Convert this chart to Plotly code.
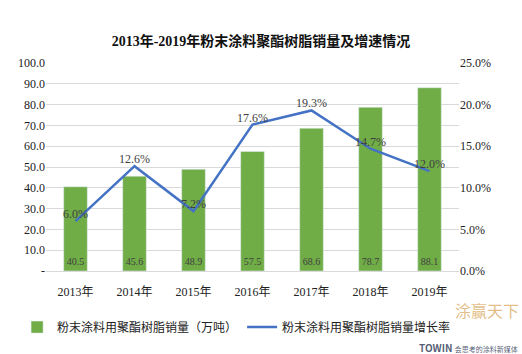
import plotly.graph_objects as go

years = ["2013年", "2014年", "2015年", "2016年", "2017年", "2018年", "2019年"]
sales = [40.5, 45.6, 48.9, 57.5, 68.6, 78.7, 88.1]
growth = [6.0, 12.6, 7.2, 17.6, 19.3, 14.7, 12.0]
left_ticks = [0, 10, 20, 30, 40, 50, 60, 70, 80, 90, 100]
left_labels = ["-"] + [f"{v:.1f}" for v in left_ticks[1:]]
right_ticks = [0, 5, 10, 15, 20, 25]
right_labels = [f"{v:.1f}%" for v in right_ticks]

serif = "Liberation Serif, Noto Sans CJK SC, serif"
txt = "#404040"

fig = go.Figure()
fig.add_trace(go.Bar(
    x=years, y=sales, name="粉末涂料用聚酯树脂销量（万吨）",
    marker=dict(color="#70AD47"),
    text=[f"{v:.1f}" for v in sales], textposition="inside",
    insidetextanchor="start", textangle=0,
    textfont=dict(family=serif, size=12, color=txt),
))
fig.add_trace(go.Scatter(
    x=years, y=growth, name="粉末涂料用聚酯树脂销量增长率", yaxis="y2",
    mode="lines+text", line=dict(color="#4472C4", width=2.5),
    text=[f"{v:.1f}%" for v in growth], textposition="top center",
    textfont=dict(family=serif, size=12, color=txt),
))

fig.update_layout(
    width=522, height=354,
    margin=dict(l=46, r=63, t=63, b=81),
    paper_bgcolor="white", plot_bgcolor="white",
    font=dict(family=serif, size=12, color="#222"),
    title=dict(text="<b>2013年-2019年粉末涂料聚酯树脂销量及增速情况</b>",
               x=0.5, xanchor="center", y=0.885, yanchor="middle",
               font=dict(family=serif, size=14, color="#111")),
    bargap=0.6,
    xaxis=dict(showgrid=False, showline=True, linecolor="#d9d9d9",
               tickfont=dict(family=serif, size=12, color="#222"), ticks="",
               ticklabelstandoff=10),
    yaxis=dict(range=[0, 100], tickvals=left_ticks, ticktext=left_labels,
               showgrid=True, gridcolor="#d9d9d9", zeroline=False,
               tickfont=dict(family=serif, size=12, color="#222")),
    yaxis2=dict(range=[0, 25], tickvals=right_ticks, ticktext=right_labels,
                overlaying="y", side="right", showgrid=False, zeroline=False,
                tickfont=dict(family=serif, size=12, color="#222")),
    legend=dict(orientation="h", x=-0.07, xanchor="left", y=-0.2, yanchor="top",
                font=dict(family=serif, size=12, color="#222"), itemwidth=30,
                tracegroupgap=0),
    showlegend=True,
)

fig.add_annotation(text="涂赢天下", xref="paper", yref="paper", x=1.148, y=-0.125,
                   xanchor="right", yanchor="top", showarrow=False, borderpad=0,
                   font=dict(family="Noto Sans CJK SC", size=16, color="rgba(214,160,80,0.7)"))
fig.add_annotation(text="<b>TOWIN</b> <span style='font-size:7px'>会思考的涂料新媒体</span>",
                   xref="paper", yref="paper", x=1.145, y=-0.325, xanchor="right", yanchor="top",
                   showarrow=False, borderpad=0,
                   font=dict(family="Noto Sans CJK SC", size=10, color="rgba(40,50,80,0.8)"))

fig.write_html("out.html")
